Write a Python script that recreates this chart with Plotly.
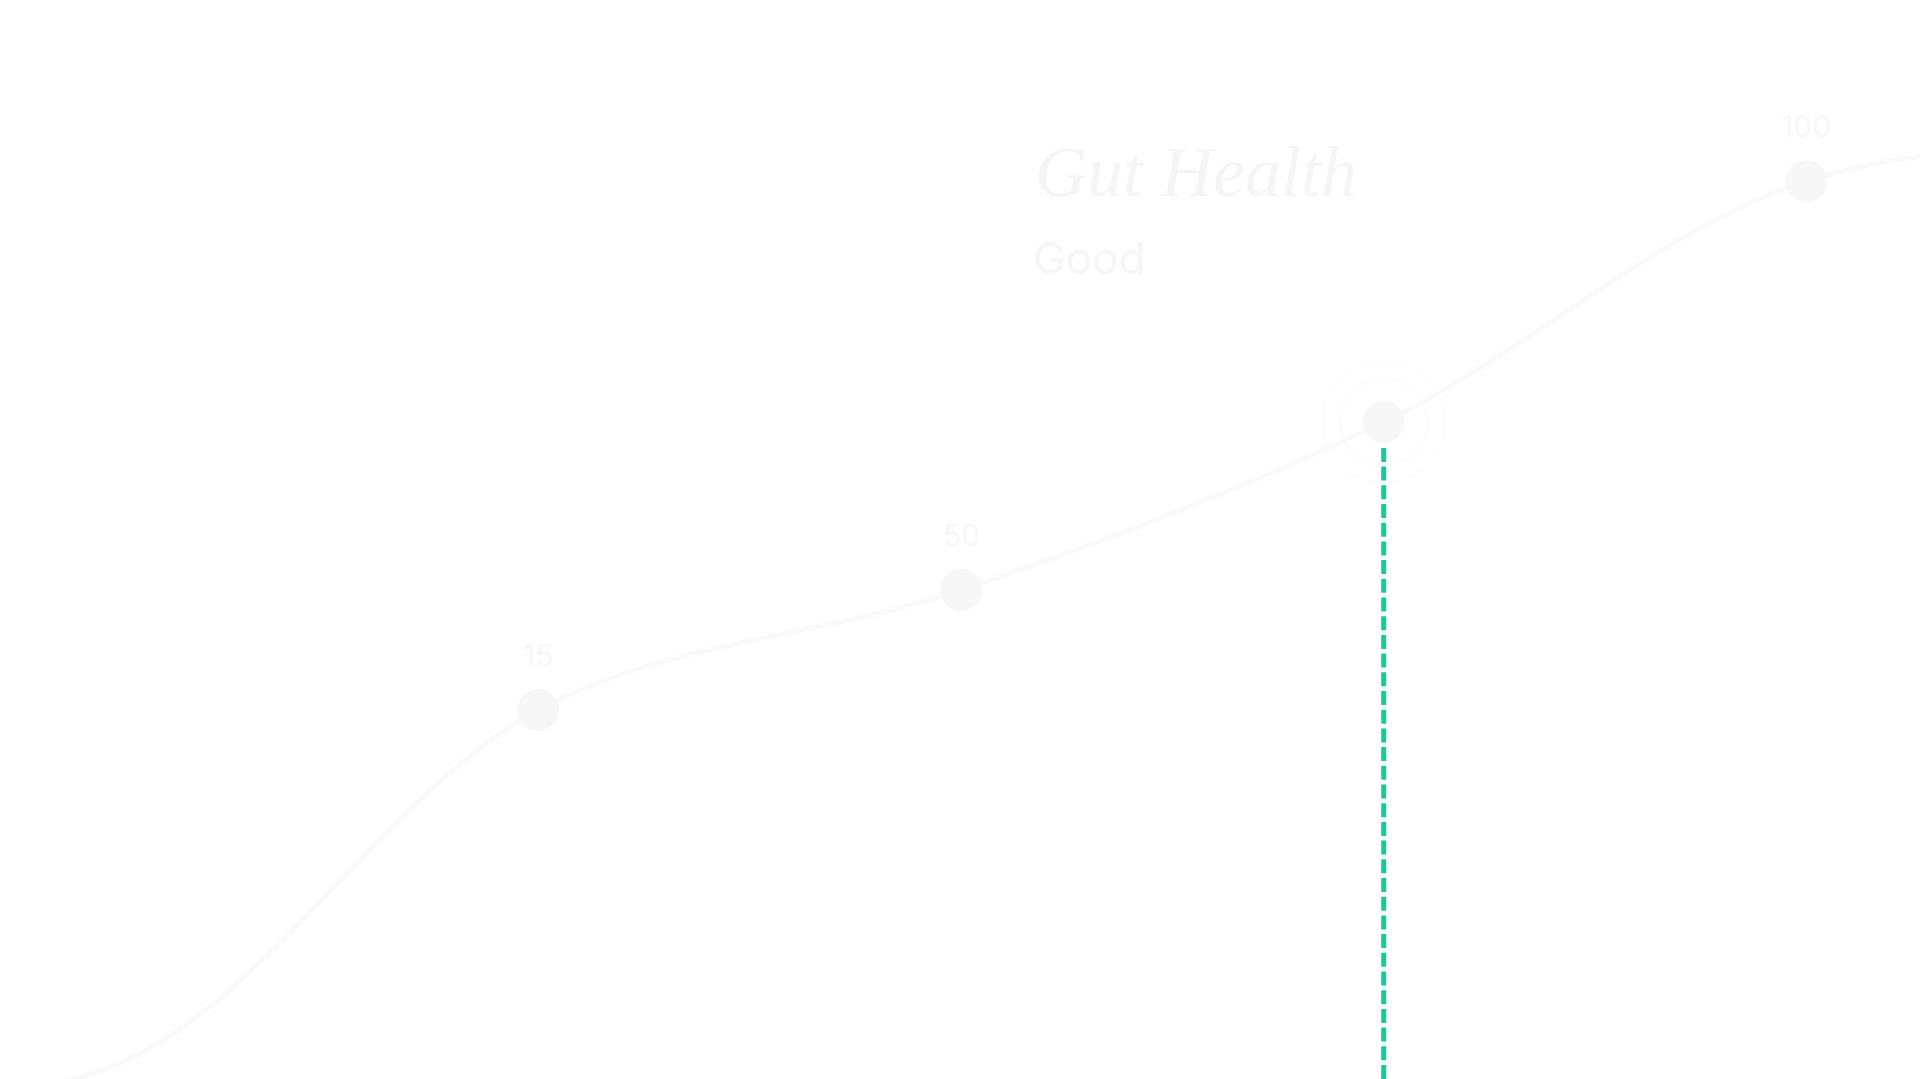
import plotly.graph_objects as go

# --- data (y in screen-height units, 0 = bottom) ---
days = [-1, 0, 1, 2, 3, 4, 5]
levels = [-20, 14, 369, 489, 657, 898, 940]
labels = [None, None, "15", "50", "", "100", None]
marked = [2, 3, 4, 5]          # points that get a dot
active = 4                     # highlighted point (rings + dashed drop line)

title_text = "Gut Health"
status_text = "Good"

W, H = 1920, 1079
X_RANGE = [-0.2735, 4.2687]
Y_RANGE = [0, H]

LINE_COL = "#f9f9f9"
DOT_COL = "#f7f7f7"
GREEN = "#12cd9a"

fig = go.Figure()

# smooth trend line
fig.add_trace(
    go.Scatter(
        x=days,
        y=levels,
        mode="lines",
        line=dict(color=LINE_COL, width=5, shape="spline", smoothing=1.0),
        hoverinfo="skip",
    )
)

# pulse rings round the active point
fig.add_trace(
    go.Scatter(
        x=[days[active]] * 2,
        y=[levels[active]] * 2,
        mode="markers",
        marker=dict(
            symbol="circle-open",
            size=[87, 122],
            color=["#f8f8f8", "#fbfbfb"],
            line=dict(width=1.5),
        ),
        hoverinfo="skip",
    )
)

# dots
fig.add_trace(
    go.Scatter(
        x=[days[i] for i in marked],
        y=[levels[i] for i in marked],
        mode="markers",
        marker=dict(size=42, color=DOT_COL),
        hoverinfo="skip",
    )
)

# value labels above the dots
for i in marked:
    if labels[i]:
        fig.add_annotation(
            x=days[i],
            y=levels[i],
            text=labels[i],
            showarrow=False,
            yshift=55,
            font=dict(family="Inter, Roboto, sans-serif", size=30, color="#f7f7f7"),
        )

# dashed drop line from the active point
fig.add_shape(
    type="line",
    xref="x",
    yref="y",
    x0=days[active],
    x1=days[active],
    y0=Y_RANGE[0],
    y1=levels[active] - 25,
    line=dict(color=GREEN, width=5, dash="14px,4.7px"),
    layer="above",
)

# heading
fig.add_annotation(
    xref="paper",
    yref="paper",
    x=1033 / W,
    y=1 - 172 / H,
    xanchor="left",
    yanchor="middle",
    text="<i>" + title_text + "</i>",
    showarrow=False,
    font=dict(family="Liberation Serif, serif", size=72, color="#f5f5f5"),
)
fig.add_annotation(
    xref="paper",
    yref="paper",
    x=1031 / W,
    y=1 - 258 / H,
    xanchor="left",
    yanchor="middle",
    text=status_text,
    showarrow=False,
    font=dict(family="Inter, Roboto, sans-serif", size=44, color="#f6f6f6"),
)

fig.update_layout(
    width=W,
    height=H,
    margin=dict(l=0, r=0, t=0, b=0),
    paper_bgcolor="white",
    plot_bgcolor="white",
    showlegend=False,
    xaxis=dict(visible=False, range=X_RANGE, fixedrange=True),
    yaxis=dict(visible=False, range=Y_RANGE, fixedrange=True),
)

fig.write_html(
    "out.html",
    config={"displayModeBar": False},
    post_script="document.body.style.margin='0';document.body.style.overflow='hidden';",
)
